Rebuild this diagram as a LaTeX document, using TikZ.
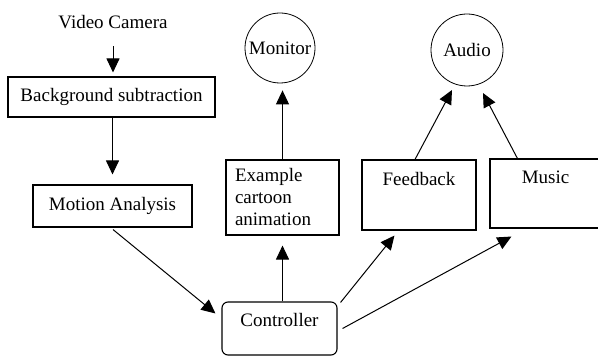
\documentclass[tikz,border=0pt]{standalone}
\usepackage{fontspec}
\setmainfont{Liberation Serif}
\usetikzlibrary{arrows.meta,calc}
\tikzset{
  every node/.style={font=\fontsize{19}{22}\selectfont},
  box/.style={draw, line width=1.1pt, rectangle, inner sep=0pt},
  device/.style={draw, line width=0.8pt, circle, inner sep=0pt},
  flow/.style={line width=1pt, -{Triangle[length=14pt,width=13pt]}},
}
\begin{document}
\begin{tikzpicture}[x=1pt,y=-1pt]
\useasboundingbox (0,0) rectangle (598,358);
\begin{scope}
\clip (0,0) rectangle (598,358);

% input chain
\node (cam) at (113,22) {Video Camera};
\node[box, minimum width=207pt, minimum height=40pt] (bg) at (111.5,97) {Background subtraction};
\node[box, minimum width=159pt, minimum height=42pt] (motion) at (112.5,206) {Motion Analysis};

% output devices
\node[device, minimum size=70pt] (monitor) at (280,48) {Monitor};
\node[device, minimum size=72pt] (audio) at (467,50) {Audio};

% output generators
\node[box, minimum width=113pt, minimum height=75pt, text width=95pt, align=left] (cartoon) at (282.5,197.5) {Example\\cartoon\\animation};
\node[box, minimum width=114pt, minimum height=70pt,
      label={[anchor=north, yshift=-9pt]north:Feedback}] (feedback) at (419,195) {};
\node[box, minimum width=111pt, minimum height=69pt,
      label={[anchor=north, yshift=-9pt]north:Music}] (music) at (545.5,193.5) {};

% central controller
\node[box, rounded corners=6pt, minimum width=115pt, minimum height=53pt,
      label={[anchor=north, yshift=-8pt]north:Controller}] (ctrl) at (279.5,328.5) {};

% connectors
\draw[flow, shorten <=14pt, shorten >=4pt] (cam.south) -- (cam.south |- bg.north);
\draw[flow, shorten >=10pt] (motion.north |- bg.south) -- (motion.north);
\draw[flow] ($(motion.south)+(0.5,2)$) -- ($(ctrl.north west)+(-6,12)$);
\draw[flow, shorten >=10pt] (cartoon.south |- ctrl.north) -- (cartoon.south);
\draw[flow, shorten >=7pt] (cartoon.north) -- (cartoon.north |- monitor.south);
\draw[flow] ($(ctrl.north east)+(3,1)$) -- ($(feedback.south west)+(33,5)$);
\draw[flow] ($(ctrl.east)+(5,0)$) -- ($(music.south west)+(22,8)$);
\draw[flow] ($(feedback.north)+(-4,0)$) -- ($(audio.center)+(-15,40)$);
\draw[flow] ($(music.north west)+(28,0)$) -- ($(audio.center)+(16,43)$);
\end{scope}
\end{tikzpicture}
\end{document}
